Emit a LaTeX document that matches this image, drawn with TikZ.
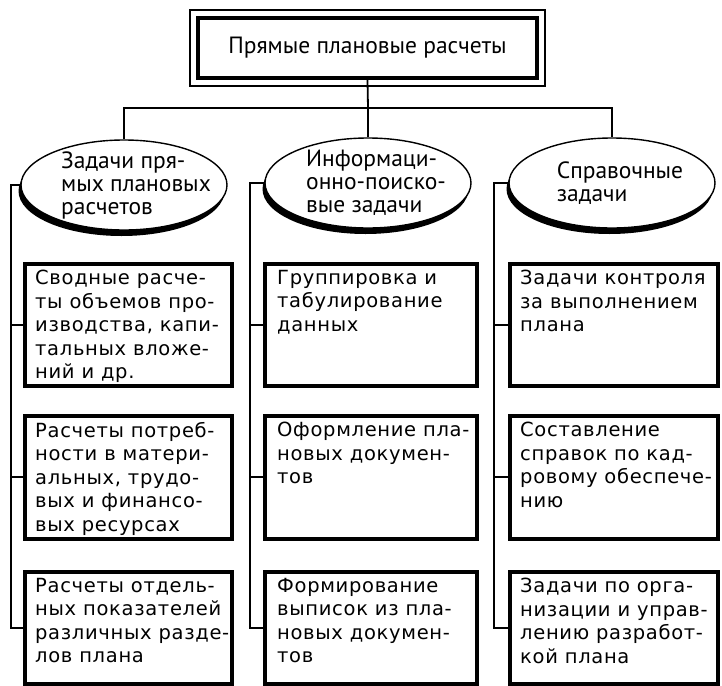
\documentclass[tikz,border=0pt]{standalone}
\usepackage{fontspec}
\setmainfont{DejaVu Sans}
\newfontfamily\headfont{PT Sans}
\newfontfamily\taskfont[LetterSpace=3.5]{DejaVu Sans}
\usetikzlibrary{shapes.geometric,shadows}

\tikzset{
  line/.style={line width=1.8pt},
  titleframe/.style={draw, line width=3.5pt, minimum width=339pt, minimum height=60pt, inner sep=0pt},
  oval/.style={ellipse, draw, line width=1.4pt, fill=white, minimum width=206pt, minimum height=90pt,
    inner sep=0pt,
    drop shadow={shadow xshift=-2.5pt, shadow yshift=-6pt, opacity=1, fill=black}},
  ovaltext/.style={inner sep=0pt, align=left, font=\headfont\fontsize{23.5}{23}\selectfont},
  taskbox/.style={draw, line width=3.5pt, anchor=north west, inner sep=0pt},
  tasktext/.style={anchor=north west, inner sep=0pt, align=left,
    font=\taskfont\fontsize{19.5}{23.5}\selectfont},
}

\begin{document}
\begin{tikzpicture}[x=1pt, y=-1pt]
\useasboundingbox (0,0) rectangle (722,685);

% title block with a double frame
\draw[line width=1.2pt] (190,10) rectangle (545,86);
\node[titleframe, font=\headfont\fontsize{23.5}{26}\selectfont] (title) at (367.5,48) {Прямые плановые расчеты};

% three task groups
\node[oval] (e1) at (124,185) {};
\node[oval] (e2) at (368,183) {};
\node[oval] (e3) at (612,183) {};
\node[ovaltext] (l1) at ([xshift=12pt]e1.center) {Задачи пря-\\мых плановых\\расчетов};
\node[ovaltext] (l2) at ([xshift=8pt]e2.center) {Информаци-\\онно-поиско-\\вые задачи};
\node[ovaltext] (l3) at ([xshift=8pt]e3.center) {Справочные\\задачи};

% task boxes, column by column
\node[taskbox, minimum width=207pt, minimum height=122pt] (b11) at (23,262) {};
\node[taskbox, minimum width=207pt, minimum height=123pt] (b12) at (23,414) {};
\node[taskbox, minimum width=207pt, minimum height=112pt] (b13) at (23,570) {};
\node[taskbox, minimum width=212pt, minimum height=122pt] (b21) at (263,262) {};
\node[taskbox, minimum width=212pt, minimum height=123pt] (b22) at (263,414) {};
\node[taskbox, minimum width=212pt, minimum height=112pt] (b23) at (263,570) {};
\node[taskbox, minimum width=208pt, minimum height=122pt] (b31) at (508,262) {};
\node[taskbox, minimum width=208pt, minimum height=123pt] (b32) at (508,414) {};
\node[taskbox, minimum width=208pt, minimum height=112pt] (b33) at (508,570) {};

\node[tasktext] (t11) at ([shift={(12,8)}]b11.north west) {Сводные расче-\\ты объемов про-\\изводства, капи-\\тальных вложе-\\ний и др.};
\node[tasktext] (t12) at ([shift={(12,8)}]b12.north west) {Расчеты потреб-\\ности в матери-\\альных, трудо-\\вых и финансо-\\вых ресурсах};
\node[tasktext] (t13) at ([shift={(12,8)}]b13.north west) {Расчеты отдель-\\ных показателей\\различных разде-\\лов плана};
\node[tasktext] (t21) at ([shift={(14,8)}]b21.north west) {Группировка и\\табулирование\\данных};
\node[tasktext] (t22) at ([shift={(14,8)}]b22.north west) {Оформление пла-\\новых докумен-\\тов};
\node[tasktext] (t23) at ([shift={(14,8)}]b23.north west) {Формирование\\выписок из пла-\\новых докумен-\\тов};
\node[tasktext] (t31) at ([shift={(12,8)}]b31.north west) {Задачи контроля\\за выполнением\\плана};
\node[tasktext] (t32) at ([shift={(12,8)}]b32.north west) {Составление\\справок по кад-\\ровому обеспече-\\нию};
\node[tasktext] (t33) at ([shift={(12,8)}]b33.north west) {Задачи по орга-\\низации и управ-\\лению разработ-\\кой плана};

% connectors from the title to the groups
\coordinate (bar) at (368,108);
\draw[line] (title.south) -- (bar);
\draw[line] (e1.north) |- (bar) -| (e3.north);
\draw[line] (e2.north) -- (e2.north |- bar);

% spines from each group to its boxes
\coordinate (s1) at (11,0);
\coordinate (s2) at (250,0);
\coordinate (s3) at (494,0);
\draw[line] (e1.west) -- (e1.west -| s1) |- (b13.west);
\draw[line] (b11.west) -- (b11.west -| s1);
\draw[line] (b12.west) -- (b12.west -| s1);
\draw[line] (e2.west) -- (e2.west -| s2) |- (b23.west);
\draw[line] (b21.west) -- (b21.west -| s2);
\draw[line] (b22.west) -- (b22.west -| s2);
\draw[line] (e3.west) -- (e3.west -| s3) |- (b33.west);
\draw[line] (b31.west) -- (b31.west -| s3);
\draw[line] (b32.west) -- (b32.west -| s3);
\end{tikzpicture}
\end{document}
